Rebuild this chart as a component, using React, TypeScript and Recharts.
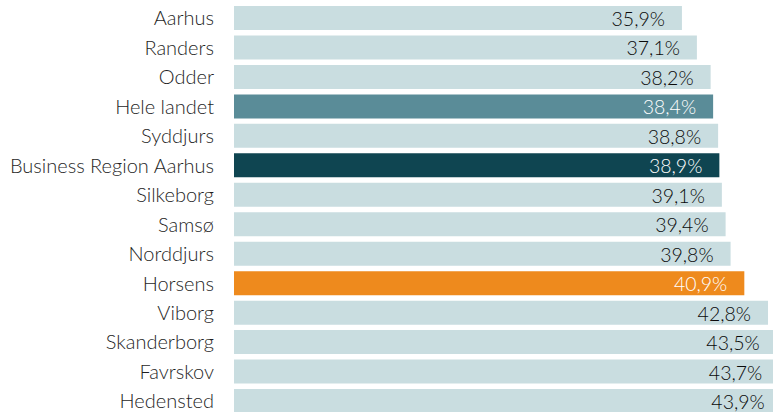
import React from 'react';
import { BarChart, Bar, XAxis, YAxis, Cell, LabelList } from 'recharts';

const categories = [
  'Aarhus',
  'Randers',
  'Odder',
  'Hele landet',
  'Syddjurs',
  'Business Region Aarhus',
  'Silkeborg',
  'Samsø',
  'Norddjurs',
  'Horsens',
  'Viborg',
  'Skanderborg',
  'Favrskov',
  'Hedensted',
];

const values = [35.9, 37.1, 38.2, 38.4, 38.8, 38.9, 39.1, 39.4, 39.8, 40.9, 42.8, 43.5, 43.7, 43.9];

const data = categories.map((name, i) => ({ name, value: values[i] }));

const BASE_COLOR = '#C9DDE0';
const highlightColors: Record<string, string> = {
  'Hele landet': '#5A8C98',
  'Business Region Aarhus': '#0F4551',
  Horsens: '#EE8A1D',
};

const FONT = 'Lato, "Open Sans", sans-serif';

const fmt = (v: number) => v.toFixed(1).replace('.', ',') + '%';

const renderLabel = (props: any) => {
  const { x, y, width, height, value, index } = props;
  const name = categories[index];
  const fill = highlightColors[name] ? '#FFFFFF' : '#0A0A0A';
  return (
    <text
      x={Number(x) + Number(width) - 17}
      y={Number(y) + Number(height) / 2 + 0.5}
      textAnchor="end"
      dominantBaseline="central"
      fill={fill}
      fontFamily={FONT}
      fontSize={19.5}
      fontWeight={300}
    >
      {fmt(Number(value))}
    </text>
  );
};

export default function App() {
  return (
    <div
      style={{
        position: 'absolute',
        left: 0,
        top: 0,
        width: 773,
        height: 412,
        overflow: 'hidden',
        background: '#FFFFFF',
      }}
    >
      <BarChart
        width={783}
        height={416}
        data={data}
        layout="vertical"
        margin={{ top: 3.5, right: 0, bottom: 0, left: 0 }}
        barCategoryGap={2.5}
      >
        <XAxis type="number" domain={[0, 44]} hide />
        <YAxis
          type="category"
          dataKey="name"
          width={234}
          axisLine={false}
          tickLine={false}
          tickSize={0}
          tickMargin={20}
          interval={0}
          tick={{ fill: '#1F1F1F', fontFamily: FONT, fontSize: 20, fontWeight: 300 }}
        />
        <Bar dataKey="value" isAnimationActive={false}>
          {data.map((d) => (
            <Cell key={d.name} fill={highlightColors[d.name] || BASE_COLOR} />
          ))}
          <LabelList dataKey="value" content={renderLabel} />
        </Bar>
      </BarChart>
    </div>
  );
}
